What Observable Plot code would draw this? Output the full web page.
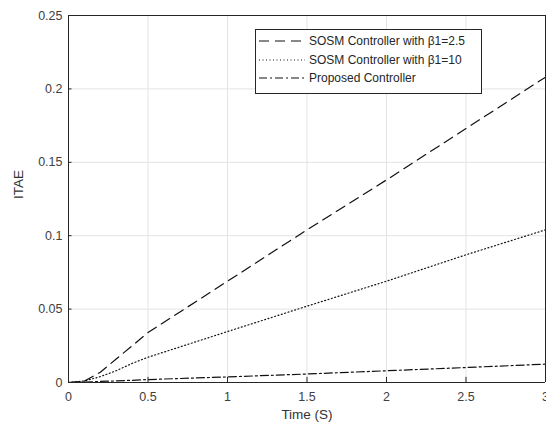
<!DOCTYPE html>
<html>
<head>
<meta charset="utf-8">
<script src="https://cdn.jsdelivr.net/npm/d3@7"></script>
<script src="https://cdn.jsdelivr.net/npm/@observablehq/plot@0.6"></script>
<style>
  body { margin: 0; background: #fff; }
  #wrap { position: relative; width: 546px; height: 431px; font-family: "Liberation Sans", Arial, sans-serif; }
  #legend { position: absolute; left: 255px; top: 29px; width: 227px; height: 65px; border: 1px solid #262626; background: #fff; box-sizing: border-box; font-size: 12px; color: #262626; }
  #legend .row { position: absolute; left: 0; height: 18px; display: flex; align-items: center; }
  #legend svg { margin-left: 3px; margin-right: 4px; }
</style>
</head>
<body>
<div id="wrap"><div id="chart"></div><div id="legend"></div></div>
<script>
const time = [0, 0.1, 0.2, 0.3, 0.4, 0.5, 1, 1.5, 2, 2.5, 3];
const sosm25 = [0, 0.001, 0.007, 0.016, 0.025, 0.034, 0.069, 0.104, 0.138, 0.173, 0.208];
const sosm10 = [0, 0.001, 0.004, 0.008, 0.013, 0.0172, 0.0347, 0.052, 0.069, 0.087, 0.104];
const proposed = [0, 0.0003, 0.0007, 0.0011, 0.0015, 0.002, 0.0038, 0.0058, 0.008, 0.0102, 0.0125];
const seriesNames = ["SOSM Controller with β1=2.5", "SOSM Controller with β1=10", "Proposed Controller"];
const dashes = ["10,6", "1,2.5", "8,3,2,3"];
const xTicks = [0, 0.5, 1, 1.5, 2, 2.5, 3];
const yTicks = [0, 0.05, 0.1, 0.15, 0.2, 0.25];

const allSeries = [sosm25, sosm10, proposed];

const axisColor = "#262626";
const chart = Plot.plot({
  width: 546, height: 431,
  marginLeft: 68, marginRight: 1, marginTop: 15, marginBottom: 49,
  style: {fontFamily: "Liberation Sans, Arial, sans-serif", fontSize: "12.5px", color: "#404040", background: "#fff"},
  x: {domain: [0, 3]},
  y: {domain: [0, 0.25]},
  marks: [
    Plot.ruleX(xTicks, {stroke: "#e3e3e3", strokeWidth: 1}),
    Plot.ruleY(yTicks, {stroke: "#e3e3e3", strokeWidth: 1}),
    ...allSeries.map((vals, i) => Plot.line(time.map((t, j) => ({t, v: vals[j]})), {x: "t", y: "v", stroke: "#111", strokeWidth: 1.2, strokeDasharray: dashes[i]})),
    Plot.ruleX([0], {stroke: axisColor, strokeWidth: 1}),
    Plot.ruleY([0], {stroke: axisColor, strokeWidth: 1}),
    Plot.ruleX([3], {stroke: axisColor, strokeWidth: 1}),
    Plot.ruleY([0.25], {stroke: axisColor, strokeWidth: 1}),
    Plot.ruleX(xTicks, {y1: 0, y2: 0.0035, stroke: axisColor}),
    Plot.ruleY(yTicks, {x1: 0, x2: 0.022, stroke: axisColor}),
    Plot.axisX({ticks: xTicks, tickSize: 0, tickPadding: 10, fontSize: 12.5, label: null, tickFormat: d => String(d)}),
    Plot.axisY({ticks: yTicks, tickSize: 0, tickPadding: 6, fontSize: 12.5, label: null, tickFormat: d => String(d)}),
    Plot.text(["Time (S)"], {frameAnchor: "bottom", dy: 36, fontSize: 13.5, fill: "#333"}),
    Plot.text(["ITAE"], {frameAnchor: "left", dx: -50, rotate: -90, fontSize: 13.5, fill: "#333"})
  ]
});
document.getElementById("chart").appendChild(chart);

const legend = document.getElementById("legend");
seriesNames.forEach((name, i) => {
  const row = document.createElement("div");
  row.className = "row";
  row.style.top = (2 + i * 18.5) + "px";
  row.innerHTML = `<svg width="46" height="10"><line x1="0" y1="5" x2="46" y2="5" stroke="#111" stroke-width="1.1" stroke-dasharray="${dashes[i]}"/></svg><span>${name}</span>`;
  legend.appendChild(row);
});
</script>
</body>
</html>
